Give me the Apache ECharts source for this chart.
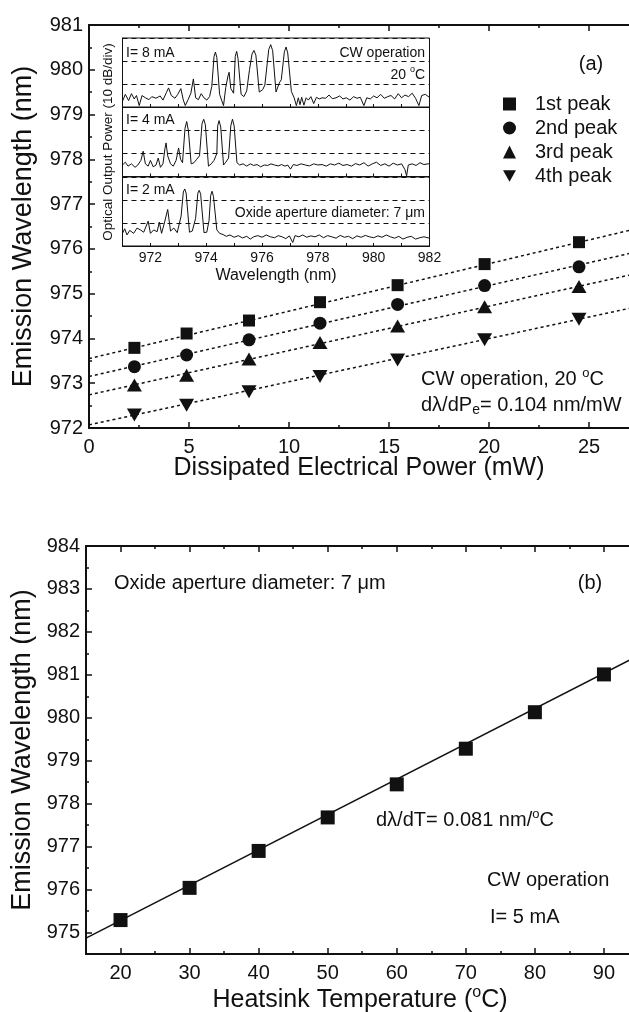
<!DOCTYPE html>
<html>
<head>
<meta charset="utf-8">
<script src="https://cdn.jsdelivr.net/npm/echarts@6/dist/echarts.min.js"></script>
<style>
  html, body { margin: 0; padding: 0; background: #fff; }
  #chart { width: 629px; height: 1012px; }
</style>
</head>
<body>
<div id="chart"></div>
<script>
// ---- panel (a): peak wavelength vs dissipated power ----
const powerMW = [2.27, 4.88, 8.0, 11.55, 15.43, 19.78, 24.5]
const peak1 = [973.79, 974.11, 974.40, 974.81, 975.19, 975.66, 976.15]
const peak2 = [973.37, 973.63, 973.97, 974.34, 974.76, 975.18, 975.60]
const peak3 = [972.96, 973.18, 973.54, 973.91, 974.28, 974.71, 975.16]
const peak4 = [972.29, 972.51, 972.81, 973.15, 973.52, 973.97, 974.43]
const peakNames = ['1st peak', '2nd peak', '3rd peak', '4th peak']

// dotted fit lines, read at 0 and 30 mW
const fitPowerX = [0, 30]
const fit1 = [973.55, 976.73]
const fit2 = [973.15, 976.20]
const fit3 = [972.74, 975.71]
const fit4 = [972.07, 974.96]

// ---- inset spectra, [wavelength nm, divisions of 10 dB] ----
const spec8mA = [[971.00,0.25],[971.10,0.55],[971.22,0.28],[971.32,0.58],[971.42,0.35],[971.50,0.50],[971.60,0.06],[971.70,0.50],[971.82,0.40],[971.95,0.32],[972.05,0.45],[972.20,0.38],[972.35,0.48],[972.45,0.30],[972.57,0.62],[972.65,0.83],[972.75,0.50],[972.88,0.38],[972.98,0.55],[973.09,0.80],[973.18,0.30],[973.25,0.06],[973.35,0.32],[973.45,0.60],[973.54,1.22],[973.62,0.40],[973.72,0.32],[973.82,0.58],[973.92,0.40],[974.02,0.30],[974.12,0.45],[974.20,0.90],[974.28,2.20],[974.33,2.39],[974.38,2.15],[974.48,0.55],[974.55,0.30],[974.62,0.06],[974.70,0.85],[974.78,1.35],[974.82,1.51],[974.88,0.80],[974.98,0.60],[975.04,2.20],[975.09,2.42],[975.14,2.10],[975.25,0.55],[975.35,0.45],[975.45,0.70],[975.55,1.62],[975.64,2.30],[975.71,2.46],[975.78,2.25],[975.90,0.65],[976.02,0.75],[976.10,0.95],[976.24,2.50],[976.31,2.71],[976.38,2.45],[976.50,0.65],[976.62,1.05],[976.69,1.19],[976.80,2.40],[976.86,2.61],[976.92,2.35],[977.05,0.68],[977.15,0.40],[977.23,0.06],[977.30,0.40],[977.36,0.10],[977.42,0.42],[977.50,0.08],[977.58,0.40],[977.66,0.30],[977.75,0.45],[977.85,0.15],[977.95,0.42],[978.05,0.35],[978.15,0.40],[978.28,0.38],[978.40,0.52],[978.52,0.36],[978.65,0.40],[978.78,0.48],[978.90,0.35],[979.02,0.40],[979.15,0.30],[979.28,0.45],[979.40,0.38],[979.52,0.42],[979.65,0.06],[979.75,0.40],[979.88,0.35],[980.00,0.48],[980.12,0.40],[980.25,0.55],[980.38,0.38],[980.50,0.45],[980.62,0.50],[980.75,0.35],[980.88,0.58],[981.00,0.40],[981.12,0.52],[981.25,0.45],[981.38,0.60],[981.50,0.38],[981.62,0.06],[981.72,0.50],[981.85,0.55],[982.00,0.42]]
const spec4mA = [[971.00,0.50],[971.10,0.62],[971.20,0.45],[971.32,0.55],[971.45,0.40],[971.55,0.50],[971.66,0.70],[971.74,1.10],[971.82,0.55],[971.92,0.45],[972.00,0.70],[972.10,0.42],[972.20,0.50],[972.28,0.80],[972.36,0.40],[972.45,0.55],[972.52,1.20],[972.56,1.46],[972.62,0.90],[972.72,0.55],[972.82,0.45],[972.92,0.70],[973.01,1.24],[973.08,0.75],[973.15,0.60],[973.24,2.10],[973.30,2.39],[973.36,2.00],[973.46,0.55],[973.56,0.60],[973.66,0.75],[973.76,0.90],[973.85,2.30],[973.91,2.49],[973.97,2.25],[974.08,0.45],[974.18,0.55],[974.28,0.70],[974.38,1.00],[974.41,2.20],[974.46,2.43],[974.52,2.15],[974.62,0.50],[974.70,0.62],[974.80,0.80],[974.88,2.20],[974.94,2.49],[975.00,2.20],[975.10,0.60],[975.20,0.50],[975.32,0.55],[975.45,0.45],[975.58,0.55],[975.70,0.48],[975.82,0.52],[975.95,0.42],[976.08,0.50],[976.20,0.48],[976.32,0.55],[976.45,0.50],[976.58,0.46],[976.70,0.52],[976.82,0.45],[976.92,0.50],[977.02,0.32],[977.12,0.52],[977.25,0.48],[977.40,0.55],[977.55,0.50],[977.70,0.46],[977.85,0.55],[978.00,0.50],[978.15,0.52],[978.30,0.45],[978.45,0.55],[978.60,0.50],[978.75,0.58],[978.90,0.48],[979.05,0.52],[979.20,0.45],[979.35,0.56],[979.50,0.50],[979.65,0.60],[979.80,0.45],[979.95,0.55],[980.10,0.62],[980.25,0.48],[980.40,0.55],[980.55,0.45],[980.70,0.58],[980.85,0.50],[981.00,0.55],[981.12,0.30],[981.18,0.03],[981.24,0.50],[981.38,0.55],[981.52,0.48],[981.66,0.60],[981.80,0.52],[982.00,0.56]]
const spec2mA = [[971.00,0.55],[971.08,0.75],[971.16,0.48],[971.26,0.68],[971.40,0.55],[971.52,0.78],[971.64,0.70],[971.76,0.60],[971.92,1.08],[972.00,0.55],[972.12,0.70],[972.24,0.62],[972.32,1.04],[972.40,0.55],[972.50,1.00],[972.62,1.59],[972.72,0.65],[972.84,0.78],[972.96,0.58],[973.10,1.30],[973.18,2.35],[973.23,2.48],[973.28,2.30],[973.40,0.60],[973.50,0.65],[973.62,1.20],[973.70,2.30],[973.75,2.42],[973.80,2.25],[973.92,0.58],[974.02,0.60],[974.10,1.10],[974.16,2.20],[974.21,2.38],[974.26,2.15],[974.38,0.70],[974.48,0.55],[974.60,0.50],[974.72,0.42],[974.85,0.48],[975.00,0.38],[975.15,0.45],[975.30,0.35],[975.45,0.42],[975.58,0.30],[975.70,0.40],[975.85,0.45],[976.00,0.38],[976.15,0.48],[976.30,0.40],[976.45,0.36],[976.58,0.45],[976.72,0.40],[976.85,0.32],[976.98,0.44],[977.10,0.15],[977.18,0.45],[977.32,0.40],[977.46,0.48],[977.60,0.38],[977.75,0.44],[977.90,0.40],[978.05,0.48],[978.20,0.36],[978.35,0.45],[978.50,0.40],[978.65,0.34],[978.80,0.46],[978.95,0.38],[979.10,0.42],[979.25,0.32],[979.40,0.44],[979.55,0.38],[979.70,0.46],[979.85,0.40],[980.00,0.36],[980.15,0.44],[980.30,0.38],[980.45,0.48],[980.60,0.40],[980.75,0.34],[980.90,0.42],[981.05,0.30],[981.20,0.38],[981.35,0.42],[981.50,0.30],[981.65,0.36],[981.80,0.40],[982.00,0.34]]

// ---- panel (b): wavelength vs heatsink temperature ----
const tempC = [20, 30, 40, 50, 60, 70, 80, 90]
const waveB = [975.29, 976.04, 976.90, 977.68, 978.45, 979.28, 980.13, 981.01]
const fitTempX = [15, 100]
const fitB = [974.87, 981.86]
const tempTicks = [20, 30, 40, 50, 60, 70, 80, 90, 100]
const tempLabels = [20, 30, 40, 50, 60, 70, 80, 90]
const waveBTicks = [975, 976, 977, 978, 979, 980, 981, 982, 983, 984]

const ink = '#111'
const font = '"Liberation Sans", Arial, sans-serif'
const zip = (xs, ys) => xs.map((x, i) => [x, ys[i]])

const chart = echarts.init(document.getElementById('chart'))

const lab = (size, extra) => Object.assign({ color: ink, fontFamily: font, fontSize: size }, extra || {})
const line2 = { lineStyle: { color: ink, width: 2 } }

const mainX = (pos, show) => ({
  gridIndex: 0, type: 'value', position: pos, min: 0, max: 30, interval: 5,
  axisLine: line2,
  axisTick: { inside: true, length: 6, lineStyle: { color: ink, width: 1.5 } },
  minorTick: { show: true, splitNumber: 2, length: 3, lineStyle: { color: ink, width: 1.5 } },
  axisLabel: show ? lab(20, { margin: 9 }) : { show: false },
  splitLine: { show: false }
})

const insetX = (g, last) => ({
  gridIndex: g, type: 'value', min: 971, max: 982, interval: 1,
  axisLine: { lineStyle: { color: ink, width: 1 } },
  axisTick: { inside: true, length: 3, lineStyle: { color: ink } },
  axisLabel: last ? lab(14, { margin: 5, formatter: v => (v % 2 === 0 ? v : '') }) : { show: false },
  splitLine: { show: false },
  name: last ? 'Wavelength (nm)' : '',
  nameLocation: 'middle', nameGap: 22,
  nameTextStyle: lab(16)
})
const insetY = (g, mid) => ({
  gridIndex: g, type: 'value', min: 0, max: 3, interval: 1,
  axisLine: { lineStyle: { color: ink, width: 1 } },
  axisTick: { show: false }, axisLabel: { show: false },
  splitLine: { show: true, lineStyle: { color: ink, type: [5, 4], width: 1 } },
  name: mid ? 'Optical Output Power (10 dB/div)' : '',
  nameLocation: 'middle', nameGap: 7,
  nameTextStyle: lab(13.5)
})

const bTicksMajor = (pos, show) => ({
  gridIndex: 4, type: 'value', position: pos, min: 15, max: 100,
  axisLine: line2,
  axisTick: { inside: true, length: 6, customValues: tempTicks, lineStyle: { color: ink, width: 1.5 } },
  axisLabel: show ? lab(20, { margin: 9, customValues: tempLabels }) : { show: false },
  splitLine: { show: false }
})
const bTicksMinor = (pos) => ({
  gridIndex: 4, type: 'value', position: pos, min: 15, max: 100, interval: 5,
  axisLine: { show: false },
  axisTick: { inside: true, length: 3, lineStyle: { color: ink, width: 1.5 } },
  axisLabel: { show: false }, splitLine: { show: false }
})

const sup = { fontSize: 13, fontFamily: font, fill: ink, verticalAlign: 'top' }
const sub = { fontSize: 13, fontFamily: font, fill: ink, verticalAlign: 'bottom' }
const txt = (x, y, text, size, align) => ({
  type: 'text', x, y, z: 100,
  style: {
    text, fontSize: size, fontFamily: font, fill: ink,
    align: align || 'left', verticalAlign: 'middle', lineHeight: size + 5,
    rich: { sup: Object.assign({}, sup, { fontSize: Math.round(size * 0.65) }), sub: Object.assign({}, sub, { fontSize: Math.round(size * 0.68) }) }
  }
})

const peakSeries = [peak1, peak2, peak3, peak4]
const peakSymbols = ['rect', 'circle', 'triangle', 'path://M0,0L10,0L5,9Z']
const peakSizes = [12, 13, [15, 13], [15, 13]]
const fits = [fit1, fit2, fit3, fit4]

const series = []
peakSeries.forEach((ys, i) => {
  series.push({
    name: peakNames[i], type: 'scatter', xAxisIndex: 0, yAxisIndex: 0,
    symbol: peakSymbols[i], symbolSize: peakSizes[i], z: 5,
    itemStyle: { color: ink, opacity: 1 },
    data: zip(powerMW, ys)
  })
})
fits.forEach((ys) => {
  series.push({
    type: 'line', xAxisIndex: 0, yAxisIndex: 0, symbol: 'none', silent: true,
    lineStyle: { color: ink, width: 1.5, type: [3, 3] },
    data: zip(fitPowerX, ys)
  })
})
;[spec8mA, spec4mA, spec2mA].forEach((d, i) => {
  series.push({
    type: 'line', xAxisIndex: 2 + i, yAxisIndex: 1 + i, symbol: 'none',
    lineStyle: { color: ink, width: 1 }, data: d
  })
})
series.push({
  type: 'line', xAxisIndex: 5, yAxisIndex: 4, symbol: 'none',
  lineStyle: { color: ink, width: 1.5 }, data: zip(fitTempX, fitB)
})
series.push({
  type: 'scatter', xAxisIndex: 5, yAxisIndex: 4, symbol: 'rect', symbolSize: 14, z: 5,
  itemStyle: { color: ink, opacity: 1 }, data: zip(tempC, waveB)
})

const insetGrid = (top) => ({
  left: 122.5, top, width: 307, height: 69, show: true, outerBoundsMode: 'none',
  backgroundColor: '#fff', borderColor: ink, borderWidth: 1
})

chart.setOption({
  animation: false,
  backgroundColor: '#fff',
  grid: [
    { left: 89, top: 25, width: 600, height: 403, outerBoundsMode: 'none' },
    insetGrid(38), insetGrid(107.5), insetGrid(177),
    { left: 86, top: 546, width: 587, height: 408, outerBoundsMode: 'none' }
  ],
  xAxis: [
    mainX('bottom', true), mainX('top', false),
    insetX(1, false), insetX(2, false), insetX(3, true),
    bTicksMajor('bottom', true), bTicksMinor('bottom'),
    bTicksMajor('top', false), bTicksMinor('top')
  ],
  yAxis: [
    {
      gridIndex: 0, type: 'value', position: 'left', min: 972, max: 981, interval: 1,
      axisLine: line2,
      axisTick: { inside: true, length: 6, lineStyle: { color: ink, width: 1.5 } },
      minorTick: { show: true, splitNumber: 2, length: 3, lineStyle: { color: ink, width: 1.5 } },
      axisLabel: lab(20, { margin: 6 }),
      splitLine: { show: false },
      name: 'Emission Wavelength (nm)', nameLocation: 'middle', nameGap: 52,
      nameTextStyle: lab(27)
    },
    insetY(1, false), insetY(2, true), insetY(3, false),
    {
      gridIndex: 4, type: 'value', position: 'left', min: 974.5, max: 984,
      axisLine: line2,
      axisTick: { inside: true, length: 6, customValues: waveBTicks, lineStyle: { color: ink, width: 1.5 } },
      axisLabel: lab(20, { margin: 6, customValues: waveBTicks }),
      splitLine: { show: false },
      name: 'Emission Wavelength (nm)', nameLocation: 'middle', nameGap: 49,
      nameTextStyle: lab(27)
    },
    {
      gridIndex: 4, type: 'value', position: 'left', offset: 0, min: 974.5, max: 984, interval: 0.5,
      axisLine: { show: false },
      axisTick: { inside: true, length: 3, lineStyle: { color: ink, width: 1.5 } },
      axisLabel: { show: false }, splitLine: { show: false }
    }
  ],
  legend: {
    data: peakNames, orient: 'vertical', left: 498, top: 89,
    itemWidth: 13, itemHeight: 13, itemGap: 4,
    textStyle: lab(20, { padding: [0, 0, 0, 14] }),
    selectedMode: false
  },
  graphic: [
    txt(591, 64, '(a)', 20, 'center'),
    txt(421, 379, 'CW operation, 20 {sup|o}C', 20),
    txt(421, 405, 'dλ/dP{sub|e}= 0.104 nm/mW', 20),
    txt(126, 53, 'I= 8 mA', 14),
    txt(425, 53, 'CW operation', 14, 'right'),
    txt(425, 75, '20 {sup|o}C', 14, 'right'),
    txt(126, 120, 'I= 4 mA', 14),
    txt(126, 190, 'I= 2 mA', 14),
    txt(425, 213, 'Oxide aperture diameter: 7 μm', 14, 'right'),
    txt(359, 468, 'Dissipated Electrical Power (mW)', 25, 'center'),
    txt(114, 583, 'Oxide aperture diameter: 7 μm', 20),
    txt(590, 583, '(b)', 20, 'center'),
    txt(376, 820, 'dλ/dT= 0.081 nm/{sup|o}C', 20),
    txt(487, 880, 'CW operation', 20),
    txt(490, 917, 'I= 5 mA', 20),
    txt(360, 1000, 'Heatsink Temperature ({sup|o}C)', 25, 'center')
  ],
  series
})
</script>
</body>
</html>
